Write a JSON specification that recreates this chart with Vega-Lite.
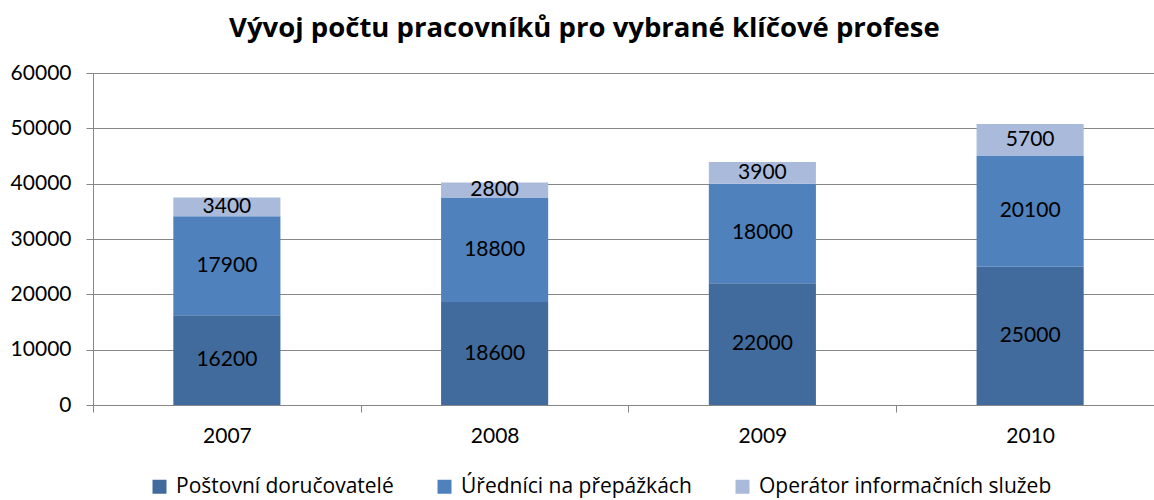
{
  "$schema": "https://vega.github.io/schema/vega-lite/v6.json",
  "width": 1071,
  "height": 332,
  "autosize": {"type": "none"},
  "padding": {"left": 93, "top": 73, "right": 0, "bottom": 95},
  "background": "white",
  "title": {
    "text": "Vývoj počtu pracovníků pro vybrané klíčové profese",
    "font": "Open Sans",
    "fontSize": 27.5,
    "fontWeight": "bold",
    "color": "#000000",
    "anchor": "start",
    "dx": 219,
    "offset": 20
  },
  "config": {"view": {"stroke": null}},
  "data": {
    "values": [
      {"year": "2007", "series": "Poštovní doručovatelé", "ord": 1, "value": 16200},
      {"year": "2007", "series": "Úředníci na přepážkách", "ord": 2, "value": 17900},
      {"year": "2007", "series": "Operátor informačních služeb", "ord": 3, "value": 3400},
      {"year": "2008", "series": "Poštovní doručovatelé", "ord": 1, "value": 18600},
      {"year": "2008", "series": "Úředníci na přepážkách", "ord": 2, "value": 18800},
      {"year": "2008", "series": "Operátor informačních služeb", "ord": 3, "value": 2800},
      {"year": "2009", "series": "Poštovní doručovatelé", "ord": 1, "value": 22000},
      {"year": "2009", "series": "Úředníci na přepážkách", "ord": 2, "value": 18000},
      {"year": "2009", "series": "Operátor informačních služeb", "ord": 3, "value": 3900},
      {"year": "2010", "series": "Poštovní doručovatelé", "ord": 1, "value": 25000},
      {"year": "2010", "series": "Úředníci na přepážkách", "ord": 2, "value": 20100},
      {"year": "2010", "series": "Operátor informačních služeb", "ord": 3, "value": 5700}
    ]
  },
  "encoding": {
    "x": {
      "field": "year",
      "type": "nominal",
      "scale": {"paddingInner": 0.6, "paddingOuter": 0.3},
      "axis": {
        "title": null,
        "labelAngle": 0,
        "tickOffset": -134,
        "labelOffset": 134,
        "domainColor": "#868686",
        "tickColor": "#868686",
        "tickSize": 7,
        "labelFont": "Lato",
        "labelFontSize": 21,
        "labelColor": "#000000",
        "labelPadding": 13,
        "grid": false
      }
    }
  },
  "layer": [
    {
      "mark": {"type": "bar"},
      "encoding": {
        "y": {
          "field": "value",
          "type": "quantitative",
          "stack": "zero",
          "scale": {"domain": [0, 60000]},
          "axis": {
            "title": null,
            "values": [0, 10000, 20000, 30000, 40000, 50000, 60000],
            "format": "d",
            "grid": true,
            "gridColor": "#868686",
            "domainColor": "#868686",
            "tickColor": "#868686",
            "tickSize": 7,
            "labelFont": "Lato",
            "labelFontSize": 21,
            "labelColor": "#000000",
            "labelPadding": 15
          }
        },
        "color": {
          "field": "series",
          "type": "nominal",
          "scale": {
            "domain": ["Poštovní doručovatelé", "Úředníci na přepážkách", "Operátor informačních služeb"],
            "range": ["#416B9C", "#4F81BD", "#A9BADB"]
          },
          "legend": {
            "title": null,
            "orient": "none",
            "direction": "horizontal",
            "legendX": 56,
            "legendY": 403,
            "symbolType": "square",
            "symbolSize": 196,
            "symbolStrokeWidth": 0,
            "labelFont": "Open Sans",
            "labelFontSize": 21,
            "labelColor": "#000000",
            "labelOffset": 6,
            "columnPadding": 40,
            "labelLimit": 400
          }
        },
        "order": {"field": "ord", "type": "quantitative"}
      }
    },
    {
      "mark": {"type": "text", "font": "Lato", "fontSize": 21, "color": "#000000", "baseline": "middle"},
      "encoding": {
        "y": {"field": "value", "type": "quantitative", "stack": "zero", "bandPosition": 0.5},
        "text": {"field": "value", "type": "quantitative", "format": "d"},
        "order": {"field": "ord", "type": "quantitative"},
        "detail": {"field": "series"}
      }
    }
  ]
}
